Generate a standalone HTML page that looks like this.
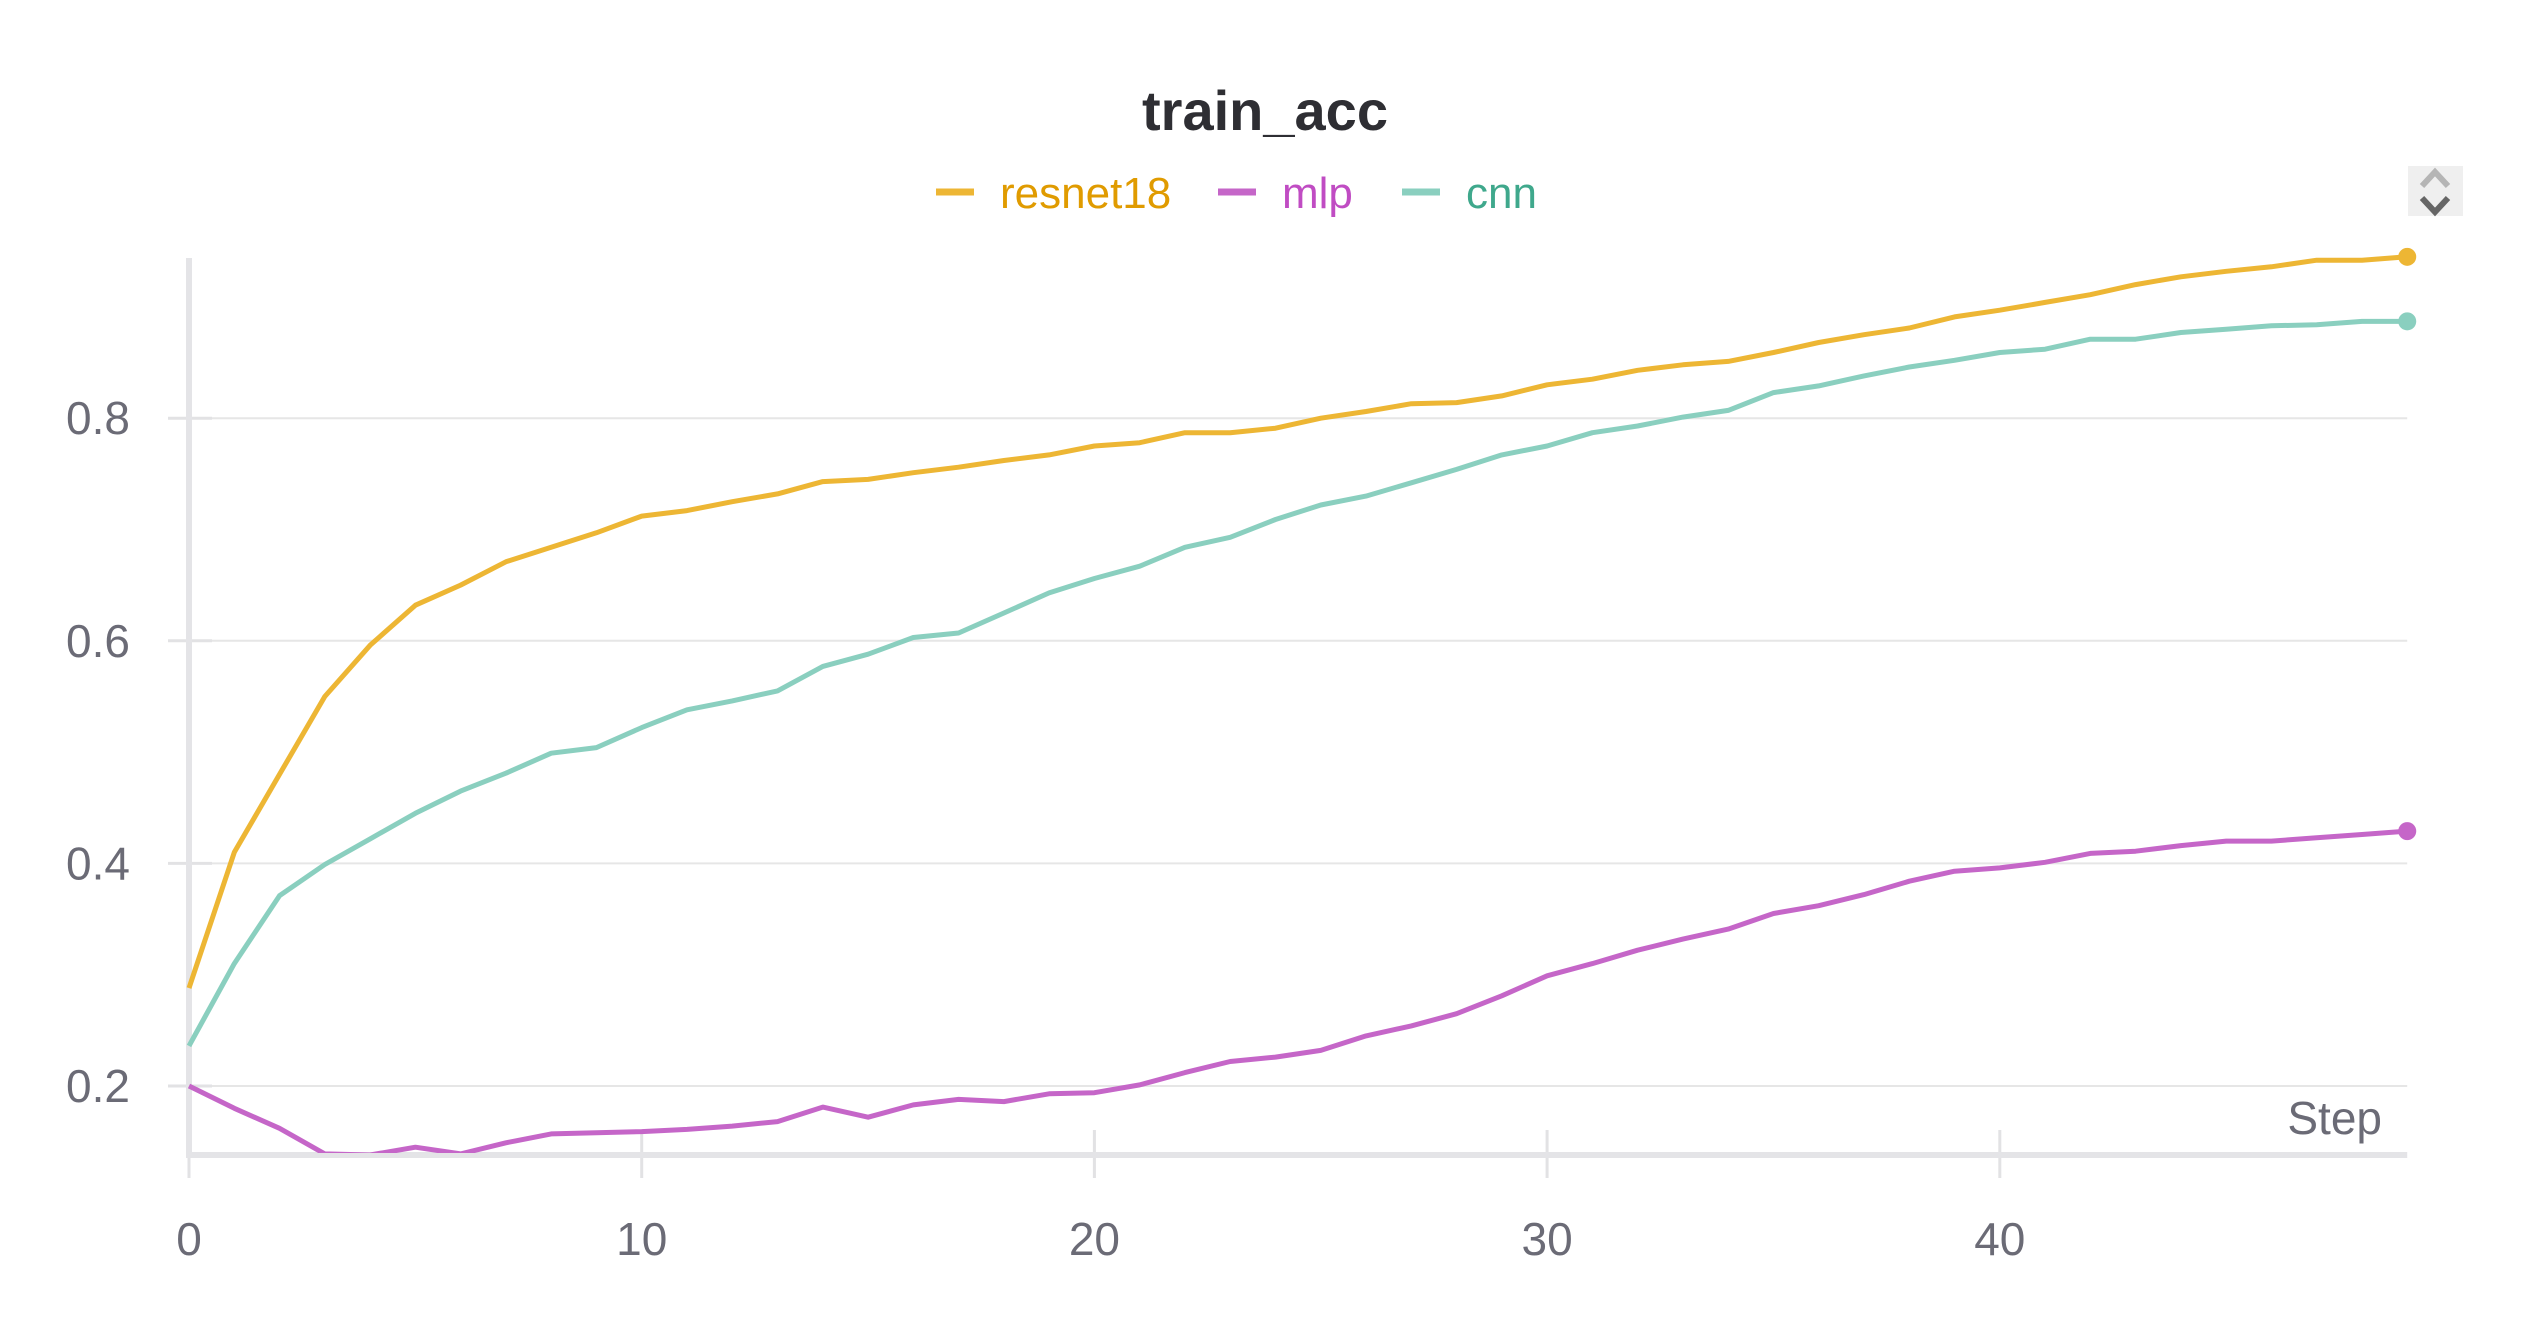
<!DOCTYPE html>
<html><head><meta charset="utf-8"><style>
html,body{margin:0;padding:0;background:#fff;}
svg{display:block;font-family:"Liberation Sans",sans-serif;}
</style></head><body>
<svg id="chart" width="2528" height="1328" viewBox="0 0 2528 1328" xmlns="http://www.w3.org/2000/svg">
<defs><clipPath id="plotclip"><rect x="186" y="230" width="2250" height="923"/></clipPath></defs>
<text x="1265" y="130" text-anchor="middle" font-size="56" font-weight="bold" fill="#2e2e33">train_acc</text>
<g id="legend"></g>
<g>
<rect x="2408" y="166" width="55" height="50" fill="#efefef"/>
<path d="M2422 186 L2435 172 L2448 186" stroke="#b5b5b5" stroke-width="6" fill="none"/>
<path d="M2422 198 L2435 212 L2448 198" stroke="#666" stroke-width="6" fill="none"/>
</g>
<g id="grid"></g>
<g id="axes"></g>
<g id="series" clip-path="url(#plotclip)"></g>
<g id="dots"></g>
</svg>
<script>
const steps = Array.from({length:50},(_,i)=>i);
const resnet18 = [0.288,0.41,0.48,0.55,0.596,0.632,0.65,0.671,0.684,0.697,0.712,0.717,0.725,0.732,0.743,0.745,0.751,0.756,0.762,0.767,0.775,0.778,0.787,0.787,0.791,0.80,0.806,0.813,0.814,0.82,0.83,0.835,0.843,0.848,0.851,0.859,0.868,0.875,0.881,0.891,0.897,0.904,0.911,0.92,0.927,0.932,0.936,0.942,0.942,0.945];
const cnn = [0.236,0.31,0.371,0.399,0.422,0.445,0.465,0.481,0.499,0.504,0.522,0.538,0.546,0.555,0.577,0.588,0.603,0.607,0.625,0.643,0.656,0.667,0.684,0.693,0.709,0.722,0.73,0.742,0.754,0.767,0.775,0.787,0.793,0.801,0.807,0.823,0.829,0.838,0.846,0.852,0.859,0.862,0.871,0.871,0.877,0.88,0.883,0.884,0.887,0.887];
const mlp = [0.2,0.18,0.162,0.139,0.138,0.145,0.139,0.149,0.157,0.158,0.159,0.161,0.164,0.168,0.181,0.172,0.183,0.188,0.186,0.193,0.194,0.201,0.212,0.222,0.226,0.232,0.245,0.254,0.265,0.281,0.299,0.31,0.322,0.332,0.341,0.355,0.362,0.372,0.384,0.393,0.396,0.401,0.409,0.411,0.416,0.42,0.42,0.423,0.426,0.429];
const yTicks = [0.2,0.4,0.6,0.8];
const yTickLabels = ["0.2","0.4","0.6","0.8"];
const xTicks = [0,10,20,30,40];
const xTickLabels = ["0","10","20","30","40"];
const seriesNames = ["resnet18","mlp","cnn"];
const lineColors = ["#EDB634","#C566C8","#8ACFBF"];
const textColors = ["#E09B00","#C04CC3","#3FA88C"];

const NS="http://www.w3.org/2000/svg";
const X0=189, XPER=45.27, Y02=1086, YPER=1113;
function xs(v){return X0+v*XPER;}
function ys(v){return Y02-(v-0.2)*YPER;}
function mk(tag,attrs,parent){const e=document.createElementNS(NS,tag);for(const k in attrs)e.setAttribute(k,attrs[k]);parent.appendChild(e);return e;}
const grid=document.getElementById('grid'),axes=document.getElementById('axes'),ser=document.getElementById('series'),dots=document.getElementById('dots'),leg=document.getElementById('legend');
const xEnd=xs(49);
yTicks.forEach((t,i)=>{
  const l=mk('line',{x1:168,x2:xEnd,y1:ys(t),y2:ys(t),stroke:'#e6e6e6','stroke-width':2},grid);
  
  
  const s=mk('line',{x1:168,x2:212,y1:ys(t),y2:ys(t),stroke:'#e2e2e4','stroke-width':3},grid);
  
  
  const tx=mk('text',{x:130,y:ys(t)+16,'text-anchor':'end','font-size':46,fill:'#6b6b76'},axes);
  tx.textContent=yTickLabels[i];
  
  
});
xTicks.forEach((t,i)=>{
  const s=mk('line',{x1:xs(t),x2:xs(t),y1:1130,y2:1178,stroke:'#e2e2e4','stroke-width':3},axes);
  
  
  const tx=mk('text',{x:xs(t),y:1255,'text-anchor':'middle','font-size':46,fill:'#6b6b76'},axes);
  tx.textContent=xTickLabels[i];
  
  
});
const ya=mk('line',{x1:X0,x2:X0,y1:258,y2:1158,stroke:'#e4e4e7','stroke-width':6},axes);


const xa=mk('line',{x1:X0-3,x2:xEnd,y1:1155,y2:1155,stroke:'#e4e4e7','stroke-width':6},axes);


const st=mk('text',{x:2382,y:1134,'text-anchor':'end','font-size':46,fill:'#6b6b76'},axes);
st.textContent='Step';


[resnet18,mlp,cnn].forEach((arr,si)=>{
  const d=arr.map((v,i)=>(i?'L':'M')+xs(steps[i]).toFixed(1)+' '+ys(v).toFixed(1)).join(' ');
  const p=mk('path',{d:d,fill:'none',stroke:lineColors[si],'stroke-width':5,'stroke-linejoin':'round'},ser);
  
  
  const c=mk('circle',{cx:xs(49),cy:ys(arr[49]),r:9,fill:lineColors[si]},dots);
  
  
});
const legX=[936,1218,1402];
seriesNames.forEach((n,i)=>{
  const g=mk('g',{},leg);
  
  
  mk('line',{x1:legX[i],x2:legX[i]+38,y1:192,y2:192,stroke:lineColors[i],'stroke-width':7},g);
  const t=mk('text',{x:legX[i]+64,y:208,'font-size':44,fill:textColors[i]},g);
  t.textContent=n;
});
</script>
</body></html>
